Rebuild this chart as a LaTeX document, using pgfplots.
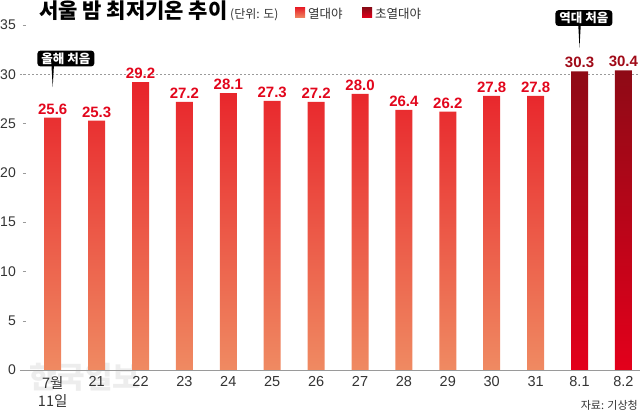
\documentclass[border=0pt]{standalone}
\usepackage{pgfplots}
\pgfplotsset{compat=1.18}
\usepackage{fontspec}
\setmainfont{Noto Sans CJK KR}
\newfontfamily\num{Liberation Sans}
\definecolor{barTop}{HTML}{E8232A}
\definecolor{barBot}{HTML}{EF8A62}
\definecolor{supTop}{HTML}{8E0A16}
\definecolor{supBot}{HTML}{E3001B}
\definecolor{valRed}{HTML}{E2061C}
\definecolor{valDark}{HTML}{A00A18}
\definecolor{axisGray}{HTML}{9A9A9A}
\begin{document}
\begin{tikzpicture}
\useasboundingbox (0,0) rectangle (640bp,413bp);
% watermark
\node[text=black!7, font=\bfseries\fontsize{30bp}{30bp}\selectfont] at (85bp,36bp) {한국일보};
\begin{axis}[
  at={(20bp,43bp)}, anchor=south west,
  scale only axis, width=620bp, height=345bp,
  xmin=-0.745, xmax=13.378, ymin=0, ymax=35,
  axis line style={draw=none},
  clip=false,
  major tick length=0pt,
  ytick={0,5,...,35},
  /pgf/number format/assume math mode=true,
  yticklabel={\pgfmathprintnumber{\tick}\hspace{7bp}\textcolor{axisGray}{\rule[0.3em]{3bp}{0.7bp}}},
  yticklabel style={anchor=east, inner sep=0pt, xshift=6bp, font=\num\fontsize{14bp}{14bp}\selectfont, text=black!80},
  xtick={0,...,13},
  xticklabels={{7월\\11일},{\num 21},{\num 22},{\num 23},{\num 24},{\num 25},{\num 26},{\num 27},{\num 28},{\num 29},{\num 30},{\num 31},{\num 8.1},{\num 8.2}},
  xticklabel style={align=center, inner sep=0pt, yshift=-6bp, font=\fontsize{14.5bp}{18bp}\selectfont, text=black!80},
  point meta=explicit symbolic,
]
% reference line at 30
\addplot[sharp plot, no marks, axisGray, line width=0.8bp, dash pattern=on 2bp off 2bp, forget plot] coordinates {(-0.745,30) (13.378,30)};
% tropical nights
\addplot[ybar, bar width=17bp, bar shift=0pt, draw=none, top color=barTop, bottom color=barBot,
  nodes near coords, nodes near coords style={font=\num\bfseries\fontsize{15bp}{15bp}\selectfont, text=valRed, anchor=south, inner sep=3bp}]
coordinates {
(0,25.6) [25.6]
(1,25.3) [25.3]
(2,29.2) [29.2]
(3,27.2) [27.2]
(4,28.1) [28.1]
(5,27.3) [27.3]
(6,27.2) [27.2]
(7,28.0) [28.0]
(8,26.4) [26.4]
(9,26.2) [26.2]
(10,27.8) [27.8]
(11,27.8) [27.8]
};
% super tropical nights
\addplot[ybar, bar width=17bp, bar shift=0pt, draw=none, top color=supTop, bottom color=supBot,
  nodes near coords, nodes near coords style={font=\num\bfseries\fontsize{15bp}{15bp}\selectfont, text=valDark, anchor=south, inner sep=3bp}]
coordinates {
(12,30.3) [30.3]
(13,30.4) [30.4]
};
% baseline
\draw[axisGray, line width=0.9bp] (axis cs:-0.745,0) -- (axis cs:13.378,0);
% annotations
\fill[black] ([xshift=-1.4bp]axis cs:0,31.2) -- ([xshift=1.4bp]axis cs:0,31.2) -- (axis cs:0,28.7) -- cycle;
\node[fill=black, text=white, rounded corners=3bp, font=\bfseries\fontsize{12.5bp}{12.5bp}\selectfont, inner xsep=4bp, inner ysep=2bp, minimum height=15bp] at (axis cs:0.3,31.6) {올해 처음};
\fill[black] ([xshift=-1.4bp]axis cs:12,35.3) -- ([xshift=1.4bp]axis cs:12,35.3) -- (axis cs:12,32.7) -- cycle;
\node[fill=black, text=white, rounded corners=3bp, font=\bfseries\fontsize{12.5bp}{12.5bp}\selectfont, inner xsep=4bp, inner ysep=2bp, minimum height=15bp] at (axis cs:12.1,35.7) {역대 처음};
\end{axis}
% title and legend
\node[anchor=base west, inner sep=0pt, font=\bfseries\fontsize{21bp}{21bp}\selectfont] at (39bp,394bp) {서울 밤 최저기온 추이};
\node[anchor=base west, inner sep=0pt, font=\fontsize{12bp}{12bp}\selectfont, text=black!80] at (230bp,394bp) {(단위: 도)};
\shade[top color=barTop, bottom color=barBot] (295bp,395bp) rectangle (305bp,405bp);
\node[anchor=base west, inner sep=0pt, font=\fontsize{12.5bp}{12.5bp}\selectfont, text=black!80] at (308bp,394bp) {열대야};
\shade[top color=supTop, bottom color=supBot] (362bp,395bp) rectangle (372bp,405bp);
\node[anchor=base west, inner sep=0pt, font=\fontsize{12.5bp}{12.5bp}\selectfont, text=black!80] at (375bp,394bp) {초열대야};
% source
\node[anchor=base east, inner sep=0pt, font=\fontsize{11bp}{11bp}\selectfont, text=black!80] at (638bp,4bp) {자료: 기상청};
\end{tikzpicture}
\end{document}
